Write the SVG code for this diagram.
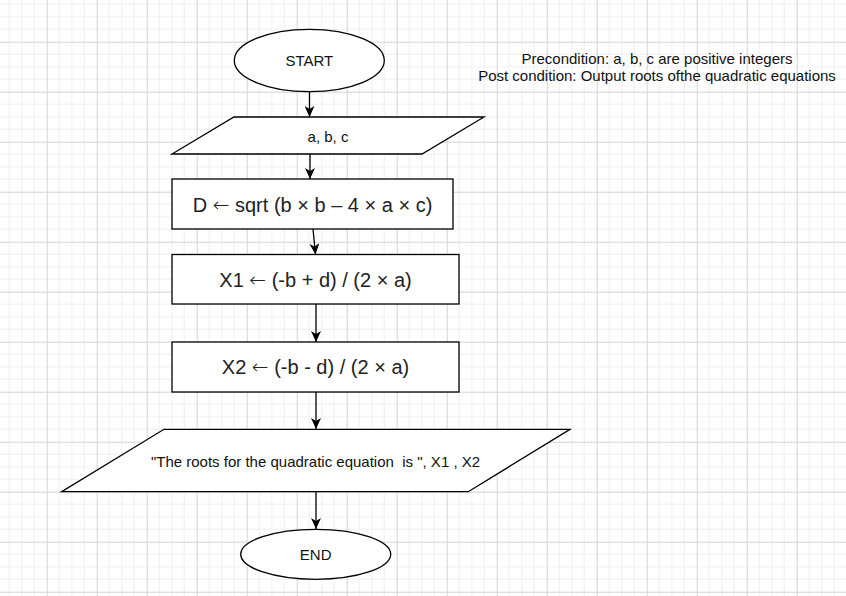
<svg xmlns="http://www.w3.org/2000/svg" width="846" height="596" viewBox="0 0 846 596">
  <defs>
    <pattern id="grid" x="-3.3" y="-8.3" width="50" height="50" patternUnits="userSpaceOnUse">
      <path d="M12.5,0V50M25,0V50M37.5,0V50M0,12.5H50M0,25H50M0,37.5H50" stroke="#eeeeee" stroke-width="1" fill="none"/>
      <path d="M0.5,0V50M0,0.5H50" stroke="#d3d3d3" stroke-width="1" fill="none"/>
    </pattern>
    <marker id="arrow" viewBox="0 0 11 10" refX="11" refY="5" markerWidth="11" markerHeight="10" markerUnits="userSpaceOnUse" orient="auto">
      <path d="M0,0 L11,5 L0,10 L3,5 Z" fill="#000"/>
    </marker>
    <style>
      .shape { fill: #ffffff; stroke: #000000; stroke-width: 1.3; }
      .conn { fill: none; stroke: #000000; stroke-width: 1.3; marker-end: url(#arrow); }
      .t15 { font-family: "Liberation Sans", Arial, sans-serif; font-size: 15px; fill: #111111; text-anchor: middle; }
      .t20 { font-family: "Liberation Sans", Arial, sans-serif; font-size: 20px; fill: #222222; text-anchor: middle; }
      .arr { font-family: "DejaVu Sans", sans-serif; font-weight: 200; }
    </style>
  </defs>
  <rect x="0" y="0" width="846" height="596" fill="#ffffff"/>
  <rect x="0" y="0" width="846" height="596" fill="url(#grid)"/>

  <g id="connectors">
    <path class="conn" d="M309.5,92 L309.5,117"/>
    <path class="conn" d="M310,154 L310,179"/>
    <path class="conn" d="M313,229 L315.5,254.5"/>
    <path class="conn" d="M316,304 L316,342"/>
    <path class="conn" d="M316,392 L316,429"/>
    <path class="conn" d="M316,492 L316,529"/>
  </g>

  <g id="start">
    <ellipse class="shape" cx="309.3" cy="60.5" rx="75" ry="31.2"/>
    <text class="t15" x="309.3" y="66">START</text>
  </g>

  <g id="input">
    <polygon class="shape" points="234,117 484,117 422,154 172,154"/>
    <text class="t15" x="328" y="142">a, b, c</text>
  </g>

  <g id="calc-d">
    <rect class="shape" x="172" y="179" width="281" height="50"/>
    <text class="t20" x="312.5" y="211.5">D <tspan class="arr">←</tspan> sqrt (b × b – 4 × a × c)</text>
  </g>

  <g id="calc-x1">
    <rect class="shape" x="172" y="254.5" width="287" height="49.5"/>
    <text class="t20" x="315.5" y="286.7">X1 <tspan class="arr">←</tspan> (-b + d) / (2 × a)</text>
  </g>

  <g id="calc-x2">
    <rect class="shape" x="172" y="342" width="287" height="50"/>
    <text class="t20" x="315.5" y="374">X2 <tspan class="arr">←</tspan> (-b - d) / (2 × a)</text>
  </g>

  <g id="output">
    <polygon class="shape" points="164,429.3 570,429.3 468.3,491.7 61.7,491.7"/>
    <text class="t15" x="315.5" y="466.5" xml:space="preserve">"The roots for the quadratic equation  is ", X1 , X2</text>
  </g>

  <g id="end">
    <ellipse class="shape" cx="315.7" cy="554.3" rx="75" ry="25"/>
    <text class="t15" x="315.7" y="559.7">END</text>
  </g>

  <g id="note">
    <text class="t15" x="657" y="64">Precondition: a, b, c are positive integers</text>
    <text class="t15" x="657" y="81">Post condition: Output roots ofthe quadratic equations</text>
  </g>
</svg>
